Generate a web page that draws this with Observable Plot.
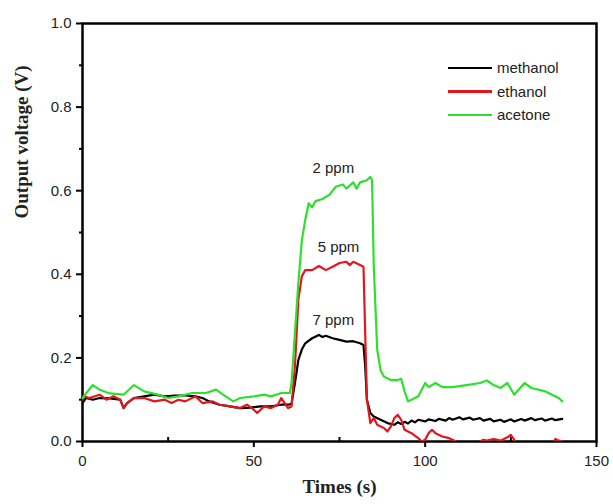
<!DOCTYPE html>
<html>
<head>
<meta charset="utf-8">
<script src="https://cdn.jsdelivr.net/npm/d3@7"></script>
<script src="https://cdn.jsdelivr.net/npm/@observablehq/plot@0.6"></script>
<style>
  html, body { margin: 0; padding: 0; background: #fff; }
  #wrap { position: relative; width: 613px; height: 504px; }
  #legend { position: absolute; left: 448px; top: 56px; font-family: "Liberation Sans", Arial, sans-serif; font-size: 15px; color: #222; }
  #legend .row { display: flex; align-items: center; height: 23.5px; }
  #legend .sw { width: 44px; height: 2.5px; margin-right: 5px; }
</style>
</head>
<body>
<div id="wrap"></div>
<script>
// ---- data ----
const seriesNames = ["methanol", "ethanol", "acetone"];
const seriesColors = ["#000000", "#e3161c", "#2ee02e"];
const xTicks = [0, 50, 100, 150];
const xMinorTicks = [25, 75, 125];
const yTicks = [0, 0.2, 0.4, 0.6, 0.8, 1.0];
const yMinorTicks = [0.1, 0.3, 0.5, 0.7, 0.9];
const annotationLabels = ["2 ppm", "5 ppm", "7 ppm"];
const annotationT = [73.2, 74.7, 73.2];
const annotationV = [0.653, 0.464, 0.29];

const methanolT = [0,1,3,5,8,11,12,13,15,18,21,24,27,30,33,35,37,40,43,46,49,52,55,58,60,61,62,63,64,65,67,69,70,71,73,75,77,79,81,82,82.5,83,84,85,87,89,91,92,93,94,95,96,97,98,100,101,103,104,106,107,108,110,111,113,114,116,117,119,120,122,123,125,126,128,129,131,132,134,135,137,138,140];
const methanolV = [0.092,0.104,0.1,0.104,0.103,0.1,0.08,0.092,0.104,0.108,0.112,0.108,0.11,0.11,0.108,0.104,0.096,0.088,0.084,0.08,0.081,0.084,0.084,0.088,0.088,0.09,0.14,0.195,0.22,0.235,0.247,0.255,0.25,0.253,0.247,0.243,0.239,0.24,0.235,0.231,0.18,0.1,0.068,0.06,0.052,0.044,0.04,0.046,0.042,0.047,0.043,0.05,0.046,0.052,0.048,0.053,0.049,0.054,0.05,0.056,0.052,0.058,0.053,0.057,0.052,0.056,0.05,0.054,0.048,0.052,0.047,0.053,0.048,0.054,0.05,0.056,0.051,0.055,0.05,0.055,0.051,0.054];

const ethanolT = [0,0.5,2,5,7,9,11,12,13,15,18,21,24,26,28,30,33,35,38,40,43,46,48,50,51,53,55,57,58,59,60,61,62,63,64,65,67,69,71,73,75,77,78,79,81,82,82.5,83,84,85,86,88,89,90,91,92,93,94,96,98,99,100,101,102,103,105,107,109,110,115,116,117,118,120,122,124,125,126,127,137,138,139,140];
const ethanolV = [0.1,0.108,0.104,0.112,0.1,0.108,0.1,0.08,0.092,0.104,0.104,0.096,0.1,0.092,0.1,0.096,0.108,0.092,0.096,0.088,0.084,0.08,0.088,0.076,0.068,0.084,0.08,0.088,0.104,0.092,0.08,0.084,0.18,0.34,0.395,0.41,0.41,0.42,0.41,0.418,0.427,0.43,0.422,0.43,0.422,0.418,0.26,0.1,0.044,0.056,0.04,0.032,0.024,0.036,0.056,0.064,0.052,0.028,0.02,0.008,0,0.004,0.02,0.028,0.02,0.012,0.008,0,-0.01,-0.01,0,0.004,0.002,0.006,0.002,0.01,0.016,0.004,-0.01,-0.01,0.006,0.002,0];

const acetoneT = [0,1.5,3,5,8,12,15,18,22,25,28,32,36,39,41,44,46,50,53,55,58,60.5,61,62,63,64,65,66,67,68,70,72,74,76,77,79,80,81,83,84,84.5,85,86,87,88,90,92,93,94,95,96,98,100,101,103,105,108,112,116,118,120,122,124,126,129,131,133,135,137,139,140];
const acetoneV = [0.104,0.12,0.135,0.124,0.115,0.112,0.135,0.12,0.112,0.104,0.108,0.116,0.116,0.124,0.112,0.096,0.104,0.108,0.112,0.108,0.116,0.116,0.14,0.26,0.38,0.48,0.53,0.57,0.56,0.575,0.58,0.59,0.61,0.615,0.605,0.62,0.605,0.62,0.625,0.633,0.625,0.42,0.22,0.17,0.155,0.147,0.147,0.15,0.12,0.096,0.1,0.108,0.14,0.13,0.14,0.13,0.13,0.135,0.14,0.146,0.135,0.128,0.14,0.112,0.14,0.128,0.124,0.12,0.112,0.104,0.096];

// ---- build table ----
const seriesT = [methanolT, ethanolT, acetoneT];
const seriesV = [methanolV, ethanolV, acetoneV];
const rows = [];
seriesNames.forEach((name, i) => {
  seriesT[i].forEach((t, j) => rows.push({series: name, t, v: seriesV[i][j]}));
});
const annotations = annotationLabels.map((label, i) => ({label, t: annotationT[i], v: annotationV[i]}));

const tickFont = "Liberation Sans, Arial, sans-serif";
const titleFont = "Liberation Serif, Times New Roman, serif";

const chart = Plot.plot({
  width: 613,
  height: 504,
  marginLeft: 82,
  marginRight: 17,
  marginTop: 23,
  marginBottom: 63,
  style: {background: "#fff", color: "#222"},
  x: {domain: [0, 150]},
  y: {domain: [0, 1]},
  color: {domain: seriesNames, range: seriesColors},
  marks: [
    Plot.axisX({ticks: xTicks, tickSize: 6, tickPadding: 8, tickFormat: d3.format("d"), label: null, fontSize: 15, fontFamily: tickFont, stroke: "black", strokeWidth: 2}),
    Plot.axisX({ticks: xMinorTicks, tickSize: -4, tickFormat: () => "", label: null, stroke: "black", strokeWidth: 2}),
    Plot.axisY({ticks: yTicks, tickSize: 6, tickPadding: 5, tickFormat: d3.format(".1f"), label: null, fontSize: 15, fontFamily: tickFont, stroke: "black", strokeWidth: 2}),
    Plot.axisY({ticks: yMinorTicks, tickSize: 3, tickFormat: () => "", label: null, stroke: "black", strokeWidth: 2}),
    Plot.frame({stroke: "#000", strokeWidth: 2.5}),
    Plot.line(rows, {x: "t", y: "v", z: "series", stroke: "series", strokeWidth: 2.2, clip: true}),
    Plot.text(annotations, {x: "t", y: "v", text: "label", fontSize: 15, fontFamily: tickFont, fill: "#222"}),
    Plot.text(["Output voltage (V)"], {frameAnchor: "left", rotate: -90, dx: -61, dy: -14, fontSize: 19, fontWeight: "bold", fontFamily: titleFont, fill: "#222"}),
    Plot.text(["Times (s)"], {frameAnchor: "bottom", dy: 51, dx: 0, fontSize: 19, fontWeight: "bold", fontFamily: titleFont, fill: "#222"})
  ]
});

const wrap = document.getElementById("wrap");
wrap.appendChild(chart);

const legend = document.createElement("div");
legend.id = "legend";
seriesNames.forEach((name, i) => {
  const row = document.createElement("div");
  row.className = "row";
  const sw = document.createElement("span");
  sw.className = "sw";
  sw.style.background = seriesColors[i];
  const lab = document.createElement("span");
  lab.textContent = name;
  row.appendChild(sw);
  row.appendChild(lab);
  legend.appendChild(row);
});
wrap.appendChild(legend);
</script>
</body>
</html>
